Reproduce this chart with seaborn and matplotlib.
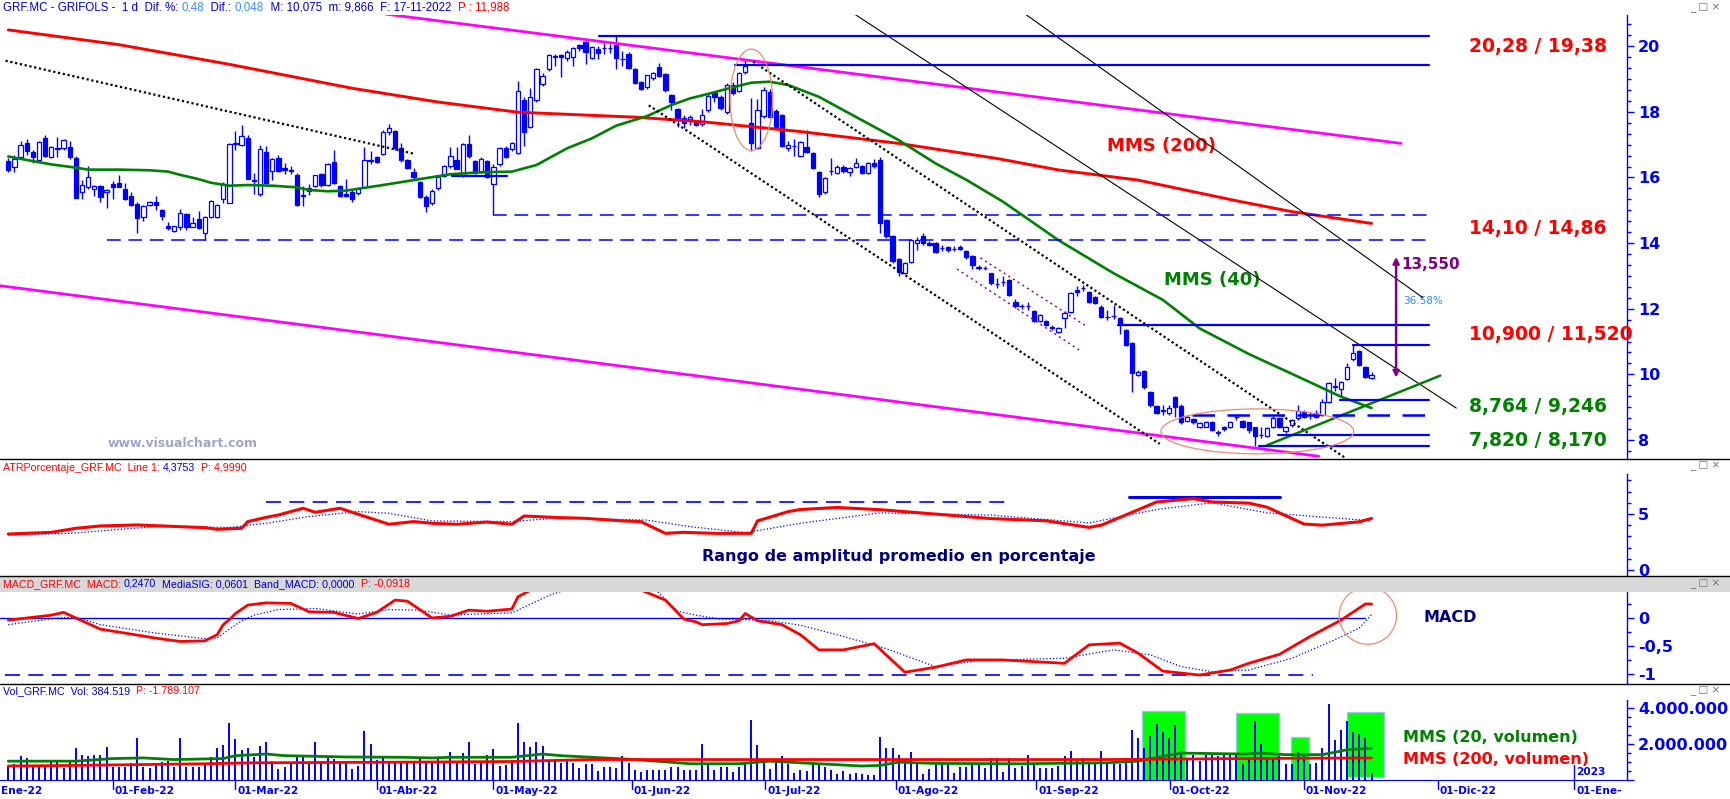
import matplotlib
matplotlib.use("Agg")
import matplotlib.pyplot as plt
import seaborn as sns
import pandas as pd
from matplotlib.patches import Ellipse, Rectangle
from matplotlib.lines import Line2D
from matplotlib.offsetbox import TextArea, HPacker, AnchoredOffsetbox
from matplotlib.ticker import FixedLocator, MultipleLocator, FuncFormatter
from matplotlib.transforms import blended_transform_factory

# ---------------- daily candles, bar 0 = 07-Jan-2022 ----------------
opens = [16.50, 16.33, 16.62, 17.05, 16.78, 16.52, 17.19, 16.62, 16.90, 16.89,
         16.92, 16.59, 15.55, 15.70, 15.64, 15.73, 15.55, 15.80, 15.83, 15.65,
         15.44, 15.19, 14.79, 15.17, 15.24, 15.01, 14.52, 14.37, 14.50, 14.88,
         14.50, 14.73, 14.30, 14.80, 14.80, 15.35, 15.21, 17.05, 17.00, 17.19,
         15.93, 15.51, 16.78, 16.21, 16.60, 16.29, 16.24, 16.08, 15.48, 15.60,
         15.73, 16.11, 15.76, 16.47, 15.73, 15.50, 15.57, 15.52, 15.72, 16.52,
         16.62, 16.71, 17.38, 17.43, 16.89, 16.53, 16.17, 15.86, 15.40, 15.21,
         15.67, 16.05, 16.35, 16.53, 16.07, 17.01, 16.50, 16.18, 16.49, 15.79,
         16.40, 16.89, 16.86, 16.76, 18.36, 17.55, 18.36, 18.86, 19.30, 19.68,
         19.73, 19.63, 19.68, 20.04, 20.12, 19.65, 19.92, 19.95, 19.96, 20.04,
         19.61, 19.76, 19.30, 18.91, 18.75, 19.02, 19.36, 19.15, 18.50, 18.08,
         17.80, 17.77, 17.70, 17.62, 18.06, 18.57, 18.44, 18.00, 18.82, 18.65,
         19.21, 17.65, 16.91, 17.87, 18.62, 18.04, 17.91, 16.89, 16.96, 16.66,
         16.94, 16.74, 16.16, 15.55, 16.20, 16.13, 16.33, 16.16, 16.31, 16.35,
         16.13, 16.43, 16.53, 14.70, 14.22, 13.52, 13.08, 13.41, 13.99, 14.23,
         14.01, 13.99, 13.84, 13.87, 13.81, 13.87, 13.77, 13.61, 13.25, 13.23,
         13.08, 12.75, 12.80, 12.87, 12.19, 12.08, 12.08, 11.93, 11.63, 11.63,
         11.43, 11.30, 11.71, 11.91, 12.57, 12.62, 12.52, 12.35, 12.06, 11.74,
         11.78, 11.71, 11.35, 10.95, 9.98, 10.10, 9.45, 9.03, 8.89, 8.81,
         9.30, 9.04, 8.58, 8.63, 8.38, 8.40, 8.55, 8.22, 8.38, 8.40,
         8.71, 8.59, 8.54, 8.38, 8.15, 8.13, 8.38, 8.66, 8.28, 8.45,
         8.66, 8.86, 8.76, 8.83, 8.76, 9.16, 9.62, 9.54, 9.86, 10.46,
         10.71, 10.23, 9.90]
closes = [16.23, 16.56, 16.99, 16.82, 16.62, 17.07, 16.67, 16.92, 16.86, 17.13,
          16.63, 15.38, 15.76, 16.01, 15.73, 15.41, 15.62, 15.72, 15.72, 15.35,
          15.17, 14.77, 15.12, 15.24, 15.17, 14.84, 14.47, 14.51, 14.91, 14.50,
          14.60, 14.47, 14.79, 15.28, 15.16, 15.79, 17.02, 17.01, 17.26, 15.96,
          15.90, 16.86, 15.82, 16.56, 16.21, 16.24, 16.21, 15.16, 15.45, 15.68,
          16.07, 15.78, 16.41, 15.83, 15.44, 15.45, 15.34, 15.64, 16.53, 16.50,
          16.47, 17.39, 17.51, 16.89, 16.52, 16.30, 16.00, 15.41, 15.14, 15.59,
          16.02, 16.34, 16.67, 16.27, 17.01, 16.66, 16.14, 16.56, 16.02, 16.31,
          16.89, 16.63, 17.04, 18.63, 17.38, 18.45, 19.30, 19.08, 19.73, 19.69,
          19.66, 19.84, 19.94, 19.94, 19.84, 19.97, 19.80, 19.96, 19.94, 19.63,
          19.60, 19.35, 18.89, 18.71, 19.11, 19.18, 19.10, 18.67, 18.31, 17.82,
          17.65, 17.84, 17.60, 17.92, 18.48, 18.46, 18.11, 18.82, 18.57, 19.18,
          19.40, 17.04, 18.06, 18.67, 17.85, 17.53, 16.97, 16.99, 16.97, 17.07,
          16.77, 16.30, 15.50, 15.98, 16.21, 16.31, 16.20, 16.28, 16.43, 16.13,
          16.43, 16.35, 14.60, 14.23, 13.46, 13.11, 13.39, 14.09, 14.09, 13.99,
          13.94, 13.74, 13.85, 13.79, 13.82, 13.81, 13.59, 13.34, 13.26, 13.24,
          12.77, 12.76, 12.81, 12.42, 12.09, 12.09, 12.07, 11.63, 11.80, 11.50,
          11.42, 11.40, 11.86, 12.47, 12.52, 12.63, 12.21, 12.18, 11.76, 11.75,
          11.77, 11.50, 10.89, 10.03, 10.08, 9.60, 9.06, 8.83, 8.90, 8.96,
          9.01, 8.54, 8.71, 8.55, 8.51, 8.55, 8.30, 8.23, 8.32, 8.55,
          8.70, 8.38, 8.30, 8.13, 8.16, 8.35, 8.68, 8.40, 8.38, 8.61,
          8.89, 8.71, 8.77, 8.71, 9.16, 9.73, 9.63, 9.77, 10.21, 10.66,
          10.28, 9.93, 9.98]
highs = [16.60, 16.70, 17.11, 17.17, 16.85, 17.12, 17.30, 16.96, 17.22, 17.16,
         17.11, 16.67, 15.92, 16.35, 15.77, 15.77, 15.65, 15.90, 16.08, 15.82,
         15.56, 15.25, 15.16, 15.27, 15.43, 15.05, 14.63, 14.53, 15.04, 14.92,
         14.79, 14.97, 14.82, 15.30, 15.19, 15.87, 17.04, 17.42, 17.60, 17.30,
         16.13, 16.99, 16.96, 16.59, 16.68, 16.45, 16.35, 16.15, 15.73, 15.80,
         16.09, 16.13, 16.43, 16.84, 15.76, 15.95, 15.63, 15.70, 16.94, 16.81,
         16.66, 17.45, 17.63, 17.46, 17.04, 16.55, 16.29, 15.88, 15.46, 15.66,
         16.05, 16.38, 16.92, 16.92, 17.05, 17.29, 16.53, 16.62, 16.52, 16.40,
         16.92, 16.95, 17.08, 18.94, 18.45, 18.72, 19.35, 19.20, 19.78, 19.76,
         19.77, 19.88, 19.98, 20.08, 20.15, 20.02, 20.00, 20.10, 20.08, 20.31,
         19.86, 19.82, 19.33, 18.95, 19.14, 19.22, 19.48, 19.19, 18.54, 18.12,
         17.90, 17.92, 17.73, 18.08, 18.58, 18.62, 18.50, 18.87, 18.90, 19.22,
         19.60, 18.41, 18.40, 18.75, 18.70, 18.10, 17.95, 17.10, 17.16, 17.10,
         17.45, 16.78, 16.20, 16.02, 16.58, 16.38, 16.38, 16.32, 16.60, 16.38,
         16.46, 16.55, 16.63, 14.75, 14.25, 13.55, 13.42, 14.12, 14.20, 14.30,
         14.06, 14.03, 13.95, 13.91, 13.92, 13.95, 13.80, 13.63, 13.32, 13.30,
         13.10, 12.95, 13.00, 12.92, 12.30, 12.15, 12.20, 11.96, 11.84, 11.66,
         11.50, 11.45, 11.93, 12.50, 12.68, 12.72, 12.55, 12.38, 12.10, 11.95,
         12.10, 11.74, 11.38, 10.98, 10.12, 10.14, 9.50, 9.05, 9.05, 9.05,
         9.35, 9.08, 8.75, 8.66, 8.56, 8.58, 8.58, 8.30, 8.42, 8.58,
         8.78, 8.62, 8.56, 8.40, 8.38, 8.38, 8.72, 8.70, 8.42, 8.64,
         9.06, 8.90, 8.85, 8.90, 9.25, 9.76, 9.88, 9.80, 10.35, 10.90,
         10.75, 10.26, 10.075]
lows = [16.18, 16.18, 16.55, 16.68, 16.45, 16.47, 16.62, 16.58, 16.62, 16.85,
        16.55, 15.38, 15.35, 15.65, 15.45, 15.24, 15.08, 15.35, 15.70, 15.30,
        15.12, 14.32, 14.68, 15.12, 15.01, 14.70, 14.40, 14.35, 14.40, 14.40,
        14.48, 14.43, 14.09, 14.78, 14.76, 15.23, 15.21, 16.85, 16.95, 15.96,
        15.50, 15.45, 15.80, 15.92, 16.18, 16.12, 16.10, 15.12, 15.12, 15.47,
        15.70, 15.70, 15.73, 15.80, 15.40, 15.42, 15.25, 15.48, 15.70, 16.40,
        16.43, 16.68, 17.30, 16.85, 16.47, 16.25, 15.95, 15.38, 14.96, 15.15,
        15.62, 16.00, 16.30, 16.25, 16.02, 16.60, 16.10, 16.14, 15.98, 14.86,
        16.36, 16.58, 16.82, 16.72, 16.97, 17.50, 18.30, 18.78, 19.25, 19.40,
        19.07, 19.55, 19.40, 19.85, 19.47, 19.60, 19.62, 19.78, 19.80, 19.32,
        19.40, 19.30, 18.85, 18.66, 18.70, 18.98, 19.05, 18.62, 18.05, 17.55,
        17.50, 17.60, 17.57, 17.58, 18.00, 18.30, 18.05, 17.95, 18.50, 18.60,
        19.15, 16.81, 16.88, 17.80, 17.80, 17.50, 16.93, 16.80, 16.66, 16.62,
        16.75, 16.25, 15.40, 15.50, 16.08, 16.10, 16.15, 16.05, 16.28, 16.10,
        16.10, 16.30, 14.30, 14.16, 13.40, 13.00, 13.05, 13.38, 13.80, 13.95,
        13.90, 13.70, 13.75, 13.72, 13.76, 13.78, 13.52, 13.20, 13.18, 13.17,
        12.72, 12.62, 12.70, 12.40, 12.02, 12.00, 11.96, 11.60, 11.60, 11.46,
        11.35, 11.27, 11.40, 11.88, 12.40, 12.55, 12.18, 12.15, 11.72, 11.65,
        11.70, 11.22, 10.86, 9.47, 9.95, 9.55, 9.00, 8.78, 8.75, 8.75,
        8.70, 8.50, 8.55, 8.50, 8.35, 8.38, 8.28, 8.12, 8.28, 8.35,
        8.62, 8.35, 8.20, 7.82, 8.05, 8.10, 8.35, 8.37, 8.20, 8.40,
        8.60, 8.68, 8.65, 8.68, 8.74, 9.12, 9.50, 9.35, 9.82, 10.40,
        10.25, 9.88, 9.866]

# daily volume, thousands of shares
volume_k = [739, 865, 1315, 1225, 739, 739, 739, 1045, 1045, 685,
            1045, 1766, 1405, 1315, 1405, 1405, 1856, 739, 739, 739,
            955, 2342, 739, 685, 865, 991, 1045, 739, 2342, 739,
            739, 739, 955, 1261, 1766, 1946, 3153, 2252, 1676, 1802,
            1261, 1910, 2090, 1081, 631, 739, 865, 1405, 1405, 865,
            2126, 1045, 1225, 1189, 1045, 1045, 631, 775, 2721, 1982,
            1135, 1261, 955, 1081, 955, 955, 955, 1225, 955, 1045,
            1225, 1081, 1532, 1045, 1495, 2126, 865, 955, 1405, 1712,
            775, 829, 1135, 3153, 2090, 1856, 2090, 1910, 1045, 1045,
            955, 1045, 955, 685, 865, 865, 505, 739, 739, 685,
            1351, 955, 541, 450, 541, 541, 541, 541, 721, 739,
            541, 541, 541, 2000, 829, 541, 739, 721, 450, 739,
            865, 3351, 1946, 1081, 595, 955, 1351, 865, 414, 541,
            505, 865, 865, 739, 541, 360, 505, 324, 414, 324,
            288, 288, 2396, 1766, 1766, 1405, 955, 1532, 865, 324,
            631, 865, 865, 865, 378, 721, 721, 865, 811, 685,
            1225, 1225, 450, 1225, 685, 775, 1405, 811, 685, 685,
            685, 775, 1351, 1622, 1045, 1225, 865, 865, 1586, 865,
            865, 865, 1225, 2757, 2306, 1766, 2432, 3117, 2667, 2306,
            3027, 1586, 1225, 1405, 1045, 1405, 1405, 1315, 1405, 1405,
            1405, 865, 1225, 3261, 2000, 1225, 1225, 1315, 865, 865,
            1532, 1405, 865, 955, 1766, 4234, 2216, 2757, 3297, 2667,
            2577, 2306, 385]

# moving averages on price (bar, value)
mms200_x = [0, 18, 36, 56, 70, 83, 102, 113, 129, 145, 161, 171, 184, 200, 209, 222]
mms200_y = [20.50, 20.05, 19.45, 18.72, 18.30, 17.99, 17.84, 17.70, 17.40, 17.04, 16.58, 16.23, 15.92, 15.29, 14.96, 14.60]
mms40_x = [0, 4, 7, 11, 13, 18, 23, 26, 28, 31, 33, 36, 39, 43, 47, 49, 52, 55, 61, 66, 72, 77, 82, 86,
           91, 95, 99, 104, 108, 111, 114, 118, 121, 124, 127, 132, 138, 145, 151, 156, 162, 171, 180,
           188, 194, 202, 210, 217, 222]
mms40_y = [16.64, 16.50, 16.40, 16.30, 16.24, 16.24, 16.22, 16.18, 16.08, 15.95, 15.84, 15.75, 15.77, 15.75,
           15.70, 15.62, 15.58, 15.60, 15.77, 15.92, 16.10, 16.16, 16.18, 16.38, 16.89, 17.19, 17.58, 17.87,
           18.21, 18.41, 18.55, 18.75, 18.89, 18.92, 18.82, 18.46, 17.85, 17.14, 16.43, 15.93, 15.26, 14.09,
           13.08, 12.27, 11.40, 10.62, 9.93, 9.32, 8.97]

# ATR % pane
atr_x = [0, 7, 11, 15, 21, 32, 34, 38, 39, 42, 44, 48, 50, 54, 57, 62, 66, 69, 73, 78, 82, 84, 90, 94,
         100, 103, 107, 110, 115, 121, 122, 127, 129, 135, 142, 151, 160, 169, 176, 178, 184, 187, 193,
         196, 202, 205, 211, 214, 218, 220, 222]
atr_y = [3.21, 3.36, 3.72, 3.93, 4.02, 3.78, 3.63, 3.72, 4.32, 4.70, 4.91, 5.51, 5.15, 5.51, 4.97, 4.08,
         4.32, 4.17, 4.08, 4.28, 4.08, 4.82, 4.67, 4.61, 4.38, 4.32, 3.27, 3.36, 3.27, 3.27, 4.38, 5.21,
         5.40, 5.58, 5.38, 4.99, 4.59, 4.39, 3.80, 4.00, 5.38, 6.07, 6.37, 6.07, 5.97, 5.60, 4.10, 4.00,
         4.20, 4.30, 4.60]
atr_sig_x = [0, 10, 24, 36, 42, 49, 57, 62, 69, 82, 90, 99, 104, 111, 120, 129, 142, 160, 176, 187, 196, 205, 222]
atr_sig_y = [3.12, 3.27, 3.87, 3.80, 4.17, 4.77, 5.21, 5.06, 4.38, 4.32, 4.67, 4.52, 4.45, 3.87, 3.33, 4.17,
             5.10, 4.90, 4.20, 5.40, 6.00, 5.10, 4.40]

# MACD pane
macd_x = [0, 7, 9, 11, 15, 19, 24, 28, 32, 34, 35, 36, 37, 39, 42, 46, 49, 53, 57, 60, 63, 65, 69, 72,
          75, 78, 82, 83, 86, 90, 95, 100, 103, 107, 110, 112, 113, 117, 119, 120, 122, 126, 129, 132,
          136, 141, 146, 151, 156, 162, 167, 172, 176, 181, 184, 188, 194, 199, 202, 207, 212, 217, 221, 222]
macd_y = [-0.04, 0.05, 0.10, 0.00, -0.20, -0.27, -0.36, -0.42, -0.41, -0.30, -0.12, -0.03, 0.08, 0.23,
          0.27, 0.26, 0.11, 0.10, -0.01, 0.10, 0.32, 0.30, 0.00, 0.03, 0.14, 0.12, 0.16, 0.38, 0.55, 0.75,
          0.85, 0.70, 0.50, 0.32, -0.02, -0.07, -0.12, -0.10, -0.05, 0.08, -0.05, -0.12, -0.30, -0.57,
          -0.57, -0.46, -0.97, -0.88, -0.75, -0.75, -0.78, -0.81, -0.48, -0.45, -0.63, -0.95, -1.02, -0.93,
          -0.81, -0.65, -0.33, -0.04, 0.25, 0.25]
sig_x = [0, 8, 11, 15, 24, 32, 34, 36, 38, 40, 44, 50, 57, 62, 67, 72, 76, 82, 88, 95, 105, 109, 112, 116,
         120, 124, 129, 136, 143, 151, 158, 165, 172, 180, 186, 191, 196, 202, 209, 216, 220, 222]
sig_y = [-0.12, 0.00, 0.02, -0.12, -0.27, -0.37, -0.36, -0.20, -0.05, 0.05, 0.15, 0.17, 0.07, 0.15, 0.14,
         0.05, 0.07, 0.09, 0.40, 0.65, 0.55, 0.12, 0.05, -0.02, -0.03, -0.05, -0.13, -0.33, -0.55, -0.87,
         -0.76, -0.74, -0.72, -0.57, -0.66, -0.87, -0.96, -0.93, -0.72, -0.39, -0.18, 0.06]

# volume averages (bar, thousands)
vol20_x = [0, 11, 17, 22, 27, 35, 37, 42, 45, 55, 64, 69, 72, 82, 87, 90, 97, 102, 107, 111, 119, 124,
           129, 139, 142, 145, 151, 165, 179, 184, 188, 191, 201, 204, 208, 214, 218, 222]
vol20_y = [1045, 1045, 1189, 1225, 1135, 1189, 1351, 1441, 1351, 1279, 1261, 1225, 1261, 1261, 1441, 1351,
           1225, 1135, 1009, 901, 901, 1045, 955, 775, 811, 991, 919, 901, 955, 1045, 1315, 1495, 1441,
           1495, 1405, 1405, 1676, 1766]
vol200_x = [0, 11, 15, 32, 40, 65, 82, 95, 129, 179, 201, 222]
vol200_y = [775, 811, 829, 901, 955, 991, 1027, 1135, 1135, 1135, 1189, 1225]

# drawn studies: (bar0, bar1), (price0, price1)
magenta_lines = [((61.5, 226.8), (20.98, 17.04)), ((-1.35, 213.4), (12.70, 7.50))]
dotted_lines = [((-0.45, 66.2), (19.56, 16.72)), ((104.3, 187.5), (18.20, 7.88)),
                ((121.3, 217.9), (19.53, 7.43))]
thin_lines = [((137.9, 235.8), (20.97, 8.97)), ((165.7, 230.4), (20.97, 12.33))]
mini_channel = [((158.3, 175.7), (13.55, 11.45)), ((154.5, 174.4), (13.21, 10.74))]
support_line = ((205.0, 233.2), (7.84, 9.96))
# horizontal levels: price, first bar, last bar, dashed
levels = [(20.30, 96.2, 231.4, False), (19.42, 118.4, 231.4, False), (14.86, 79.0, 231.4, True),
          (14.10, 16.1, 231.4, True), (16.06, 72.3, 81.2, False), (11.50, 180.7, 231.4, False),
          (10.89, 219.0, 231.4, False), (9.22, 216.9, 231.4, False), (8.77, 192.8, 231.4, True),
          (8.15, 206.8, 231.4, False), (7.81, 203.7, 231.4, False)]
level_labels = [("20,28 / 19,38", 19.98, "#ff0000"), ("14,10 / 14,86", 14.46, "#ff0000"),
                ("10,900 / 11,520", 11.22, "#ff0000"), ("8,764 / 9,246", 9.02, "#008000"),
                ("7,820 / 8,170", 7.98, "#008000")]
volume_boxes = [(184.6, 191.6, 3838, 0), (200.0, 207.0, 3712, 0), (208.9, 211.8, 2378, 0),
                (218.0, 224.0, 3748, 180)]
month_ticks = [17, 37, 60, 79, 101.5, 123.3, 144.5, 167.4, 189.2, 211, 232.8]
month_labels = ["01-Feb-22", "01-Mar-22", "01-Abr-22", "01-May-22", "01-Jun-22", "01-Jul-22",
                "01-Ago-22", "01-Sep-22", "01-Oct-22", "01-Nov-22", "01-Dic-22"]

W, H = 1730, 799
BLUE = "#0000ff"
RED = "#ff0000"
GREEN = "#008000"
XMIN, XMAX = -1.35, 263.6

sns.set_style("white")
plt.rcParams["font.family"] = ["DejaVu Sans"]
plt.rcParams["font.weight"] = "bold"

fig = plt.figure(figsize=(W / 100, H / 100), dpi=100)


def pane(top, bottom, ylim):
    ax = fig.add_axes([0, 1 - bottom / H, 1627 / W, (bottom - top) / H])
    ax.set_xlim(XMIN, XMAX)
    ax.set_ylim(*ylim)
    for s in ["top", "left", "bottom"]:
        ax.spines[s].set_visible(False)
    ax.spines["right"].set_color(BLUE)
    ax.spines["right"].set_linewidth(1)
    ax.yaxis.tick_right()
    ax.set_xticks([])
    ax.tick_params(axis="y", which="both", colors=BLUE, direction="out", width=1,
                   labelsize=11.5, pad=3)
    ax.tick_params(axis="y", which="major", length=5)
    ax.tick_params(axis="y", which="minor", length=3)
    ax.set_facecolor("white")
    return ax


def header(parts, x_px, y_px, size=7.7):
    boxes = [TextArea(s, textprops=dict(color=c, fontsize=size, family="Liberation Sans",
                                        fontweight="normal")) for s, c in parts]
    pack = HPacker(children=boxes, align="baseline", pad=0, sep=0)
    box = AnchoredOffsetbox(loc="center left", child=pack, pad=0, borderpad=0, frameon=False,
                            bbox_to_anchor=(x_px / W, 1 - y_px / H), bbox_transform=fig.transFigure)
    fig.add_artist(box)


def hline_fig(y_px, color="black", lw=1.0):
    fig.add_artist(Line2D([0, 1], [1 - y_px / H, 1 - y_px / H], transform=fig.transFigure,
                          color=color, lw=lw))


# ---------------- main price pane ----------------
ax = pane(15, 459, (7.418, 20.954))
ax.yaxis.set_major_locator(FixedLocator([8, 10, 12, 14, 16, 18, 20]))
ax.yaxis.set_minor_locator(MultipleLocator(1 / 3))
ax.yaxis.set_major_formatter(FuncFormatter(lambda v, p: f"{v:g}"))

df = pd.DataFrame({"o": opens, "h": highs, "l": lows, "c": closes})
df["i"] = range(len(df))
up = df["c"] >= df["o"]
ax.vlines(df["i"], df["l"], df["h"], color=BLUE, lw=1.0, zorder=2)
body_lo = df[["o", "c"]].min(axis=1)
body_h = (df["c"] - df["o"]).abs().clip(lower=0.012)
ax.bar(df["i"][up], body_h[up], bottom=body_lo[up], width=0.7, facecolor="white",
       edgecolor=BLUE, lw=0.9, zorder=3)
ax.bar(df["i"][~up], body_h[~up], bottom=body_lo[~up], width=0.7, facecolor=BLUE,
       edgecolor=BLUE, lw=0.9, zorder=3)

sns.lineplot(x=mms200_x, y=mms200_y, ax=ax, color=RED, lw=2.1, zorder=4)
sns.lineplot(x=mms40_x, y=mms40_y, ax=ax, color=GREEN, lw=1.9, zorder=4)

for xs, ys in magenta_lines:
    ax.plot(xs, ys, color="#ff00ff", lw=2.0, zorder=4)
for xs, ys in dotted_lines:
    ax.plot(xs, ys, color="black", lw=1.6, ls=(0, (1, 1.2)), zorder=4)
for xs, ys in thin_lines:
    ax.plot(xs, ys, color="black", lw=0.8, zorder=4)
for xs, ys in mini_channel:
    ax.plot(xs, ys, color="#800080", lw=1.0, ls=(0, (1.5, 2.5)), zorder=4)
ax.plot(*support_line, color=GREEN, lw=1.8, zorder=4)
for price, b0, b1, dashed in levels:
    if dashed:
        lw = 1.8 if price < 9 else 1.1
        ax.plot([b0, b1], [price, price], color=BLUE, lw=lw, ls=(0, (9, 5)), zorder=4)
    else:
        ax.plot([b0, b1], [price, price], color=BLUE, lw=1.6, zorder=4)

ax.add_patch(Ellipse((121, 18.37), 6.9, 3.09, fill=False, ec="#f08a6a", lw=0.9, zorder=5))
ax.add_patch(Ellipse((203.4, 8.26), 31.4, 1.37, fill=False, ec="#f08a6a", lw=0.9, zorder=5))

ax.annotate("", xy=(226.0, 9.90), xytext=(226.0, 13.58),
            arrowprops=dict(arrowstyle="<|-|>", color="#800080", lw=1.8,
                            mutation_scale=9, shrinkA=0, shrinkB=0), zorder=6)
ax.text(226.8, 13.36, "13,550", color="#800080", fontsize=11, va="center", ha="left")
ax.text(227.2, 12.24, "36.58%", color="#1e90ff", fontsize=7.5, va="center", ha="left",
        fontweight="normal")

for txt, y, col in level_labels:
    ax.text(237.8, y, txt, color=col, fontsize=13.5, va="center", ha="left")
ax.text(179.0, 16.96, "MMS (200)", color=RED, fontsize=13, va="center", ha="left")
ax.text(188.2, 12.88, "MMS (40)", color=GREEN, fontsize=13, va="center", ha="left")
ax.text(16.1, 7.90, "www.visualchart.com", color="#a3a3cc", fontsize=9, va="center", ha="left")

# ---------------- ATR pane ----------------
ax2 = pane(474, 575, (-0.45, 8.57))
ax2.yaxis.set_major_locator(FixedLocator([0, 5]))
ax2.yaxis.set_minor_locator(MultipleLocator(1))
sns.lineplot(x=atr_x, y=atr_y, ax=ax2, color=RED, lw=2.2, zorder=4)
sns.lineplot(x=atr_sig_x, y=atr_sig_y, ax=ax2, color=BLUE, lw=0.9, ls=":", zorder=3)
ax2.plot([41.9, 163], [6.10, 6.10], color=BLUE, lw=1.2, ls=(0, (9, 5)))
ax2.plot([182.5, 207.1], [6.56, 6.56], color=BLUE, lw=2.2)
ax2.text(145, 1.16, "Rango de amplitud promedio en porcentaje", color="#000080", fontsize=11.5,
         ha="center", va="center")

# ---------------- MACD pane ----------------
ax3 = pane(592, 684, (-1.18, 0.464))
ax3.yaxis.set_major_locator(FixedLocator([-1, -0.5, 0]))
ax3.yaxis.set_minor_locator(MultipleLocator(0.25))
ax3.yaxis.set_major_formatter(FuncFormatter(lambda v, p: f"{v:g}".replace(".", ",")))
ax3.plot([XMIN, 221], [0, 0], color=BLUE, lw=1.0)
ax3.plot([-0.5, 212.5], [-1.02, -1.02], color=BLUE, lw=1.2, ls=(0, (9, 5)))
sns.lineplot(x=macd_x, y=macd_y, ax=ax3, color=RED, lw=2.0, zorder=4)
sns.lineplot(x=sig_x, y=sig_y, ax=ax3, color=BLUE, lw=0.9, ls=":", zorder=3)
ax3.add_patch(Ellipse((221.4, 0.04), 9.35, 1.02, fill=False, ec="#f08a6a", lw=0.9, zorder=5))
ax3.text(230.4, 0.0, "MACD", color="#000080", fontsize=11.5, va="center", ha="left")

# ---------------- volume pane ----------------
ax4 = pane(700, 780, (0, 4440))
ax4.spines["bottom"].set_visible(True)
ax4.spines["bottom"].set_color(BLUE)
ax4.yaxis.set_major_locator(FixedLocator([0, 2000, 4000]))
ax4.yaxis.set_minor_locator(MultipleLocator(500))
ax4.yaxis.set_major_formatter(
    FuncFormatter(lambda v, p: "" if v == 0 else f"{int(v * 1000):,}".replace(",", ".")))
for b0, b1, top, bot in volume_boxes:
    ax4.add_patch(Rectangle((b0, bot), b1 - b0, top - bot, facecolor="#00ff00",
                            edgecolor="#9ec3f0", lw=1.0, zorder=1))
ax4.vlines(range(len(volume_k)), 0, volume_k, color=BLUE, lw=1.4, zorder=2)
sns.lineplot(x=vol20_x, y=vol20_y, ax=ax4, color=GREEN, lw=2.0, zorder=4)
sns.lineplot(x=vol200_x, y=vol200_y, ax=ax4, color=RED, lw=2.0, zorder=4)
ax4.text(227.2, 2370, "MMS (20, volumen)", color=GREEN, fontsize=11.5, va="center", ha="left")
ax4.text(227.2, 1130, "MMS (200, volumen)", color=RED, fontsize=11.5, va="center", ha="left")

trans = blended_transform_factory(ax4.transData, ax4.transAxes)
for pos, lab in zip(month_ticks, month_labels):
    ax4.plot([pos, pos], [0, -0.11], transform=trans, color=BLUE, lw=1, clip_on=False)
    ax4.text(pos + 0.3, -0.135, lab, transform=trans, color=BLUE, fontsize=7.6,
             ha="left", va="center", clip_on=False)
ax4.text(XMIN + 0.1, -0.135, "Ene-22", transform=trans, color=BLUE, fontsize=7.6,
         ha="left", va="center", clip_on=False)
ax4.plot([255, 255], [0.19, -0.11], transform=trans, color=BLUE, lw=1, clip_on=False)
ax4.text(255.3, 0.10, "2023", transform=trans, color=BLUE, fontsize=7.6, ha="left",
         va="center", clip_on=False)
ax4.text(255.3, -0.135, "01-Ene-", transform=trans, color=BLUE, fontsize=7.6, ha="left",
         va="center", clip_on=False)

# ---------------- frame, separators and pane titles ----------------
hline_fig(459)
fig.add_artist(Rectangle((0, 1 - 592 / H), 1, 16 / H, transform=fig.transFigure,
                         facecolor="#d8d8d8", edgecolor="none"))
hline_fig(576)
hline_fig(684)

HB, LB = "#0000cc", "#3d8fff"
header([("GRF.MC - GRIFOLS -  1 d  Dif. %: ", HB), ("0,48", LB), ("  Dif.: ", HB), ("0,048", LB),
        ("  M: 10,075  m: 9,866  F: 17-11-2022  ", HB), ("P : 11,988", RED)], 3, 8, size=8.3)
header([("ATRPorcentaje_GRF.MC  Line 1: ", RED), ("4,3753", HB), ("  P: 4,9990", RED)], 3, 468)
header([("MACD_GRF.MC  MACD: ", RED), ("0,2470", HB), ("  MediaSIG: 0,0601  Band_MACD: 0,0000  ", HB),
        ("P: -0,0918", RED)], 3, 584)
header([("Vol_GRF.MC  Vol: 384.519  ", HB), ("P: -1.789.107", RED)], 3, 691)
for yp in (8, 466, 584, 691):
    fig.text(1690 / W, 1 - yp / H, "_ \u25a1 \u00d7", color="#707070", fontsize=7.5,
             fontweight="normal", va="center", ha="left")

fig.savefig("out.png", dpi=100)
